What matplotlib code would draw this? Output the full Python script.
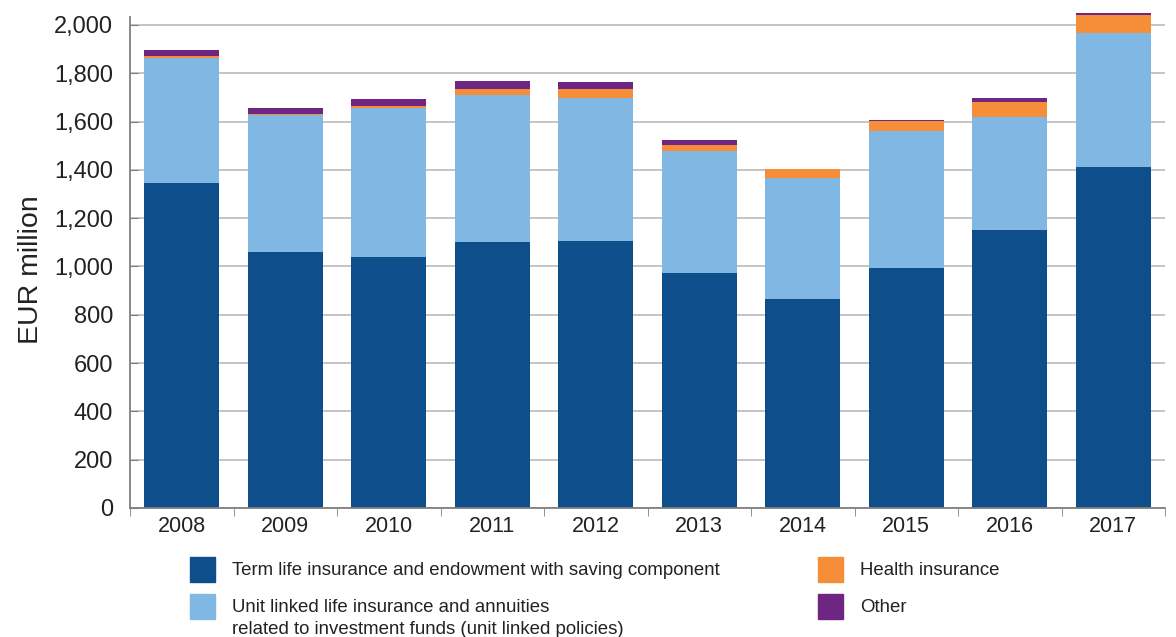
import matplotlib
matplotlib.use("Agg")
import matplotlib.pyplot as plt
from matplotlib.patches import Rectangle
from matplotlib.ticker import FuncFormatter, MultipleLocator
import numpy as np

years = ["2008", "2009", "2010", "2011", "2012", "2013", "2014", "2015", "2016", "2017"]
term_life = [1347, 1062, 1041, 1103, 1107, 975, 864, 992, 1149, 1413]
unit_linked = [515, 567, 616, 609, 591, 504, 504, 570, 471, 555]
health = [10, 4, 8, 24, 38, 25, 37, 41, 61, 73]
other = [25, 24, 29, 33, 28, 21, 0, 4, 17, 9]

series_labels = [
    "Term life insurance and endowment with saving component",
    "Unit linked life insurance and annuities\nrelated to investment funds (unit linked policies)",
    "Health insurance",
    "Other",
]
colors = ["#0e4f8b", "#80b7e3", "#f68d39", "#6f2683"]

plt.rcParams['font.family'] = ['Liberation Sans', 'DejaVu Sans']

fig = plt.figure(figsize=(11.76, 6.37), dpi=100)
W, H = 1176, 637
ax = fig.add_axes([130 / W, 1 - 508 / H, 1035 / W, 491 / H])

x = np.arange(len(years))
bottom = np.zeros(len(years))
for vals, c in zip([term_life, unit_linked, health, other], colors):
    ax.bar(x, vals, width=0.725, bottom=bottom, color=c, zorder=3, clip_on=False)
    bottom += np.array(vals)

ax.set_xlim(-0.5, 9.5)
ax.set_ylim(0, 2033)
ax.yaxis.set_major_locator(MultipleLocator(200))
ax.yaxis.set_major_formatter(FuncFormatter(lambda v, p: f"{int(v):,}"))
ax.grid(axis="y", color="#c4c4c4", linewidth=1.4, zorder=0)

ax.set_xticks(x)
ax.set_xticklabels(years)
ax.set_xticks(np.arange(-0.5, 10, 1), minor=True)
ax.tick_params(axis="x", which="major", length=0, pad=6, labelsize=15.5, colors="#222222")
ax.tick_params(axis="x", which="minor", length=6, direction="out", color="#7f7f7f")
ax.tick_params(axis="y", which="major", length=6, direction="in", pad=12,
               labelsize=17, color="#7f7f7f", labelcolor="#222222")

for s in ["top", "right"]:
    ax.spines[s].set_visible(False)
for s in ["left", "bottom"]:
    ax.spines[s].set_color("#7f7f7f")
    ax.spines[s].set_linewidth(1.3)
    ax.spines[s].set_zorder(4)

ax.set_ylabel("EUR million", fontsize=20.5, color="#222222")
ax.yaxis.set_label_coords(-0.083, 0.485)

# legend drawn by hand: two columns below the axes
legend_pos = [(190, 569), (190, 606), (818, 569), (818, 606)]
for (px, py), lab, c in zip(legend_pos, series_labels, colors):
    fig.add_artist(Rectangle((px / W, 1 - (py + 12.5) / H), 25 / W, 25 / H,
                             transform=fig.transFigure, color=c))
    fig.text((px + 42) / W, 1 - (py - 7) / H, lab, fontsize=13.4, color="#222222",
             va="top", ha="left", linespacing=1.4)

fig.savefig("out.png", dpi=100)
